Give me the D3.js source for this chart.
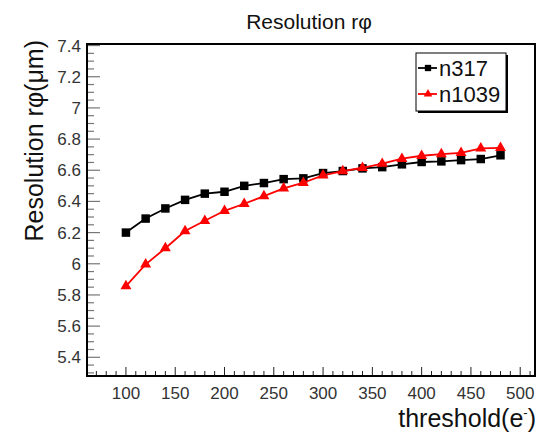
<!DOCTYPE html>
<html><head><meta charset="utf-8">
<script src="https://cdn.jsdelivr.net/npm/d3@7"></script>
<style>body{margin:0;background:#fff;} svg{display:block;font-family:"Liberation Sans",Arial,sans-serif;}</style>
</head><body>
<script>
const thresholds = [100,120,140,160,180,200,220,240,260,280,300,320,340,360,380,400,420,440,460,480];
const n317 = [6.20,6.29,6.355,6.41,6.45,6.462,6.50,6.518,6.543,6.548,6.582,6.595,6.612,6.62,6.638,6.653,6.657,6.665,6.672,6.696];
const n1039 = [5.857,5.996,6.10,6.21,6.276,6.34,6.385,6.434,6.484,6.52,6.567,6.595,6.616,6.642,6.674,6.693,6.704,6.712,6.74,6.744];
const xTicks = [100,150,200,250,300,350,400,450,500];
const yTicks = [5.4,5.6,5.8,6,6.2,6.4,6.6,6.8,7,7.2,7.4];
const seriesNames = ["n317","n1039"];
const seriesColors = ["#000000","#ff0000"];

const W=539,H=432;
const L=87,R=535,T=44,B=376;
const svg=d3.select("body").append("svg").attr("width",W).attr("height",H);
const x=d3.scaleLinear().domain([60.5,515]).range([L,R]);
const y=d3.scaleLinear().domain([5.28,7.41]).range([B,T]);

// minor ticks
const g=svg.append("g");
const xMinor=d3.range(70,516,10);
g.selectAll(".xm").data(xMinor).enter().append("line")
 .attr("x1",d=>x(d)).attr("x2",d=>x(d)).attr("y1",B).attr("y2",d=>B-(d%50===0?9:5))
 .attr("stroke","#222").attr("stroke-width",1);
const yMinor=d3.range(5.3,7.41,0.05).map(v=>+v.toFixed(2));
g.selectAll(".ym").data(yMinor).enter().append("line")
 .attr("y1",d=>y(d)).attr("y2",d=>y(d)).attr("x1",L).attr("x2",d=>L+(Math.abs(Math.round(d*5)-d*5)<1e-6?13:7))
 .attr("stroke","#777").attr("stroke-width",1.2);

// axes labels
svg.append("g").selectAll("text").data(xTicks).enter().append("text")
 .attr("x",d=>x(d)).attr("y",B+23).attr("text-anchor","middle").attr("font-size",17).attr("fill","#333").text(d=>d);
svg.append("g").selectAll("text").data(yTicks).enter().append("text")
 .attr("x",L-6).attr("y",d=>y(d)+6).attr("text-anchor","end").attr("font-size",17).attr("fill","#333").text(d=>d);

// frame
svg.append("rect").attr("x",L).attr("y",T).attr("width",R-L).attr("height",B-T)
 .attr("fill","none").attr("stroke","#000").attr("stroke-width",2);

// series
const datasets=[n317,n1039];
datasets.forEach((vals,i)=>{
  const pts=thresholds.map((t,k)=>[t,vals[k]]);
  svg.append("path").datum(pts).attr("fill","none").attr("stroke",seriesColors[i]).attr("stroke-width",1.8)
   .attr("d",d3.line().x(d=>x(d[0])).y(d=>y(d[1])));
  const sym=d3.symbol().type(i===0?d3.symbolSquare:d3.symbolTriangle).size(i===0?72:52);
  svg.append("g").selectAll("path").data(pts).enter().append("path")
   .attr("transform",d=>`translate(${x(d[0])},${y(d[1])})`).attr("d",sym).attr("fill",seriesColors[i]);
});

// title
svg.append("text").attr("x",309).attr("y",29).attr("text-anchor","middle").attr("font-size",21).attr("fill","#111").text("Resolution rφ");
// y label
svg.append("text").attr("transform","translate(43,40) rotate(-90)").attr("text-anchor","end").attr("font-size",25).attr("fill","#111").text("Resolution rφ(μm)");
// x label
const xl=svg.append("text").attr("x",536).attr("y",427).attr("text-anchor","end").attr("font-size",25).attr("fill","#111");
xl.append("tspan").text("threshold(e");
xl.append("tspan").attr("dy",-10).attr("font-size",13).text("-");
xl.append("tspan").attr("dy",10).text(")");

// legend
const lx=416,ly=53,lw=90,lh=58;
svg.append("rect").attr("x",lx+2).attr("y",ly+2).attr("width",lw).attr("height",lh).attr("fill","#000");
svg.append("rect").attr("x",lx).attr("y",ly).attr("width",lw).attr("height",lh).attr("fill","#fff").attr("stroke","#000").attr("stroke-width",1);
seriesNames.forEach((n,i)=>{
  const yy=ly+15+i*26;
  svg.append("line").attr("x1",lx+2).attr("x2",lx+21).attr("y1",yy).attr("y2",yy).attr("stroke",seriesColors[i]).attr("stroke-width",1.8);
  const sym=d3.symbol().type(i===0?d3.symbolSquare:d3.symbolTriangle).size(i===0?40:32);
  svg.append("path").attr("transform",`translate(${lx+12},${yy})`).attr("d",sym).attr("fill",seriesColors[i]);
  svg.append("text").attr("x",lx+23).attr("y",yy+7.5).attr("font-size",22).attr("fill","#111").text(n);
});
</script>
</body></html>
